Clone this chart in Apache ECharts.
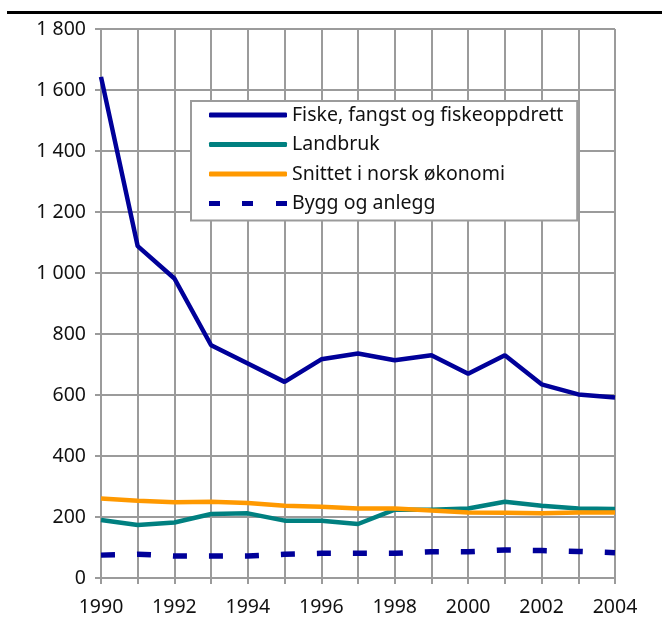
<!DOCTYPE html>
<html>
<head>
<meta charset="utf-8">
<script src="https://cdn.jsdelivr.net/npm/echarts@6/dist/echarts.min.js"></script>
<style>
  html, body { margin: 0; padding: 0; background: #fff; }
  #chart { width: 662px; height: 621px; }
</style>
</head>
<body>
<div id="chart"></div>
<script>
// Years on the horizontal axis
const years = ['1990','1991','1992','1993','1994','1995','1996','1997','1998','1999','2000','2001','2002','2003','2004'];

// Series values per year
const fiske    = [1643, 1088, 982, 763, 703, 643, 717, 736, 714, 730, 670, 730, 635, 602, 592];
const landbruk = [190, 174, 182, 210, 212, 188, 188, 177, 224, 224, 228, 250, 237, 228, 226];
const snittet  = [261, 253, 248, 250, 246, 237, 234, 228, 228, 221, 215, 214, 212, 215, 215];
const bygg     = [75, 78, 72, 72, 72, 78, 81, 81, 81, 86, 86, 92, 90, 87, 83];

// Series names
const names = ['Fiske, fangst og fiskeoppdrett', 'Landbruk', 'Snittet i norsk økonomi', 'Bygg og anlegg'];

const FONT = '"Noto Sans", "Open Sans", sans-serif';
const FS = 19.5;
const GRID_GRAY = '#9b9b9b';

// Legend keys: a solid bar, and a three-dash bar for the dashed series
const SOLID_KEY = 'roundRect';
const DASH_KEY = 'path://M0,0h11v5h-11z M33,0h11v5h-11z M67,0h11v5h-11z';

const chart = echarts.init(document.getElementById('chart'), null, { renderer: 'canvas' });

function fmtThousands(v) {
  return String(v).replace(/\B(?=(\d{3})+(?!\d))/g, ' ');
}

chart.setOption({
  animation: false,
  backgroundColor: '#fff',
  graphic: [{
    type: 'rect',
    shape: { x: 7, y: 11, width: 655, height: 3 },
    style: { fill: '#000' }
  }],
  grid: { left: 101, right: 47, top: 29, bottom: 43, containLabel: false },
  legend: {
    left: 191, top: 101,
    orient: 'vertical',
    padding: [4, 14, 7, 18],
    itemGap: 9.5,
    itemWidth: 78,
    itemHeight: 5,
    backgroundColor: '#fff',
    borderColor: GRID_GRAY,
    borderWidth: 2,
    borderRadius: 0,
    textStyle: { fontFamily: FONT, fontSize: FS, color: '#111' },
    data: [
      { name: names[0], icon: SOLID_KEY },
      { name: names[1], icon: SOLID_KEY },
      { name: names[2], icon: SOLID_KEY },
      { name: names[3], icon: DASH_KEY }
    ]
  },
  xAxis: {
    type: 'category',
    data: years,
    boundaryGap: false,
    axisLine: { lineStyle: { color: GRID_GRAY, width: 2 } },
    axisTick: { show: true, interval: 0, length: 6, lineStyle: { color: GRID_GRAY, width: 2 } },
    axisLabel: { interval: 1, margin: 19, fontFamily: FONT, fontSize: FS, color: '#111' },
    splitLine: { show: true, interval: 0, lineStyle: { color: GRID_GRAY, width: 2 } }
  },
  yAxis: {
    type: 'value',
    min: 0, max: 1800, interval: 200,
    axisLine: { show: true, lineStyle: { color: GRID_GRAY, width: 2 } },
    axisTick: { show: true, length: 6, lineStyle: { color: GRID_GRAY, width: 2 } },
    axisLabel: { margin: 15, fontFamily: FONT, fontSize: FS, color: '#111', formatter: fmtThousands },
    splitLine: { show: true, lineStyle: { color: GRID_GRAY, width: 2 } }
  },
  series: [
    {
      name: names[0], type: 'line', data: fiske, symbol: 'none',
      lineStyle: { color: '#000099', width: 4.5 }, itemStyle: { color: '#000099' }
    },
    {
      name: names[1], type: 'line', data: landbruk, symbol: 'none',
      lineStyle: { color: '#008080', width: 4.5 }, itemStyle: { color: '#008080' }
    },
    {
      name: names[2], type: 'line', data: snittet, symbol: 'none',
      lineStyle: { color: '#FF9900', width: 4.5 }, itemStyle: { color: '#FF9900' }
    },
    {
      name: names[3], type: 'line', data: bygg, symbol: 'none',
      lineStyle: { color: '#000099', width: 5.5, type: [14, 22] }, itemStyle: { color: '#000099' }
    }
  ]
});
</script>
</body>
</html>
